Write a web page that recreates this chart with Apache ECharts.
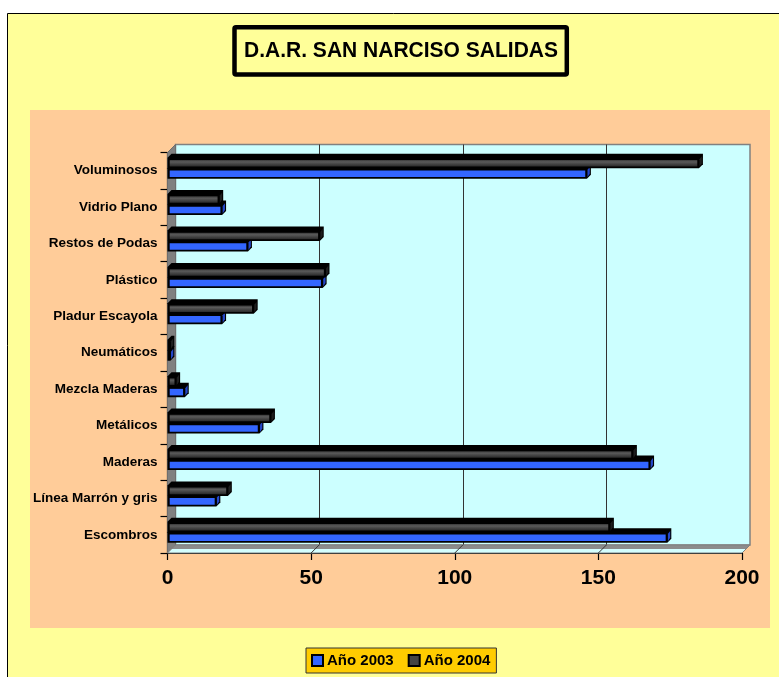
<!DOCTYPE html>
<html>
<head>
<meta charset="utf-8">
<title>D.A.R. SAN NARCISO SALIDAS</title>
<script src="https://cdn.jsdelivr.net/npm/echarts@6/dist/echarts.min.js"></script>
<style>
  html, body { margin: 0; padding: 0; background: #ffffff; }
  #chart { width: 779px; height: 677px; }
</style>
</head>
<body>
<div id="chart"></div>
<script>
// Categories, bottom to top as they appear on the vertical axis
const categories = [
  'Escombros', 'Línea Marrón y gris', 'Maderas', 'Metálicos', 'Mezcla Maderas',
  'Neumáticos', 'Pladur Escayola', 'Plástico', 'Restos de Podas', 'Vidrio Plano', 'Voluminosos'
];
const ano2003 = [174, 17, 168, 32, 6, 1, 19, 54, 28, 19, 146];
const ano2004 = [154, 21, 162, 36, 3, 1, 30, 55, 53, 18, 185];
const seriesNames = ['Año 2003', 'Año 2004'];
const xTicks = [0, 50, 100, 150, 200];

const FONT = "'Liberation Sans', Arial, Helvetica, sans-serif";

// Layout of the pseudo-3D box: front plane and back wall (offset by DEPTH)
const FRONT = { left: 167.5, top: 152.5, width: 574.5, height: 400.5 };
const DEPTH = 8;
const BACK = { left: FRONT.left + DEPTH, top: FRONT.top - DEPTH, width: FRONT.width, height: FRONT.height };
const BAR_D = 4;        // depth of each bar prism
const EDGE = 2.2;       // black outline thickness of the bars
const BLUE = '#3366FF', BLUE_SIDE = '#2447c8';
const DARK = '#444444', DARK_SIDE = '#1e1e1e';

function toData(values) {
  return values.map((v, i) => [v, i]);
}

// Draws one horizontal bar as a small prism: black silhouette, front face, right face
function makeBarRenderer(topOff, botOff, faceFill, sideFill) {
  return function (params, api) {
    const val = api.value(0);
    const cat = api.value(1);
    const p0 = api.coord([0, cat]);
    const p1 = api.coord([val, cat]);
    const c = p0[1];
    const x0 = p0[0], x1 = Math.max(p1[0], x0 + 2);
    const y0 = c + topOff, y1 = c + botOff;
    const D = BAR_D;
    const children = [];
    children.push({
      type: 'polygon',
      shape: { points: [[x0, y1], [x0, y0], [x0 + D, y0 - D], [x1 + D, y0 - D], [x1 + D, y1 - D], [x1, y1]] },
      style: { fill: '#000000' }
    });
    const fw = x1 - x0 - EDGE * 1.75;
    if (fw > 0) {
      children.push({
        type: 'rect',
        shape: { x: x0 + EDGE, y: y0 + EDGE, width: fw, height: y1 - y0 - EDGE * 1.8 },
        style: { fill: faceFill }
      });
    }
    children.push({
      type: 'polygon',
      shape: { points: [[x1 + 0.6, y0 + 1.5], [x1 + D - 1.1, y0 - D + 2.6], [x1 + D - 1.1, y1 - D - 1], [x1 + 0.6, y1 - 1.6]] },
      style: { fill: sideFill }
    });
    return { type: 'group', children: children };
  };
}

const darkFace = new echarts.graphic.LinearGradient(0, 0, 0, 1, [
  { offset: 0, color: '#383838' },
  { offset: 0.3, color: '#5a5a5a' },
  { offset: 1, color: '#2a2a2a' }
]);

// Slanted floor lines linking front ticks to the back wall grid lines
function renderFloorLine(params, api) {
  const v = api.value(0);
  const p = api.coord([v, 0]);
  const bottom = params.coordSys.y + params.coordSys.height;
  return {
    type: 'line',
    shape: { x1: p[0], y1: bottom, x2: p[0] + DEPTH, y2: bottom - DEPTH },
    style: { stroke: '#333333', lineWidth: 1 }
  };
}

const chart = echarts.init(document.getElementById('chart'), null, { renderer: 'canvas' });

chart.setOption({
  animation: false,
  backgroundColor: '#ffffff',
  graphic: [
    { type: 'rect', z: -20, shape: { x: 7.5, y: 13.5, width: 800, height: 700 },
      style: { fill: '#FFFF99', stroke: '#000000', lineWidth: 1 } },
    { type: 'rect', z: -19, shape: { x: 30, y: 110, width: 740, height: 518 },
      style: { fill: '#FFCC99' } },
    { type: 'rect', z: -18, shape: { x: 234.5, y: 27.3, width: 332.3, height: 47.2, r: 1.5 },
      style: { fill: '#FFFF99', stroke: '#000000', lineWidth: 4.5 } },
    { type: 'text', z: -17, x: 401, y: 51, scaleX: 0.955,
      style: { text: 'D.A.R. SAN NARCISO SALIDAS', fill: '#000000', font: 'bold 22px ' + FONT,
               textAlign: 'center', textVerticalAlign: 'middle' } },
    // left side wall
    { type: 'polygon', z: 1,
      shape: { points: [[FRONT.left, FRONT.top + FRONT.height], [FRONT.left, FRONT.top],
                        [BACK.left, BACK.top], [BACK.left, BACK.top + BACK.height]] },
      style: { fill: '#808080', stroke: '#6e6e6e', lineWidth: 1 } },
    // floor
    { type: 'polygon', z: 1,
      shape: { points: [[FRONT.left, FRONT.top + FRONT.height], [BACK.left, BACK.top + BACK.height],
                        [BACK.left + BACK.width, BACK.top + BACK.height],
                        [FRONT.left + FRONT.width, FRONT.top + FRONT.height]] },
      style: {
        fill: new echarts.graphic.LinearGradient(0, 0, 0, 1, [
          { offset: 0, color: '#8c8c8c' }, { offset: 0.45, color: '#8c8c8c' },
          { offset: 0.55, color: '#D4FFFF' }, { offset: 1, color: '#D4FFFF' }
        ]),
        stroke: '#808080', lineWidth: 1
      } }
  ],
  title: { show: false },
  legend: {
    left: 306, top: 648,
    data: [
      { name: seriesNames[0], itemStyle: { color: BLUE } },
      { name: seriesNames[1], itemStyle: { color: DARK } }
    ],
    icon: 'rect',
    itemWidth: 11, itemHeight: 11, itemGap: 14,
    itemStyle: { borderColor: '#000000', borderWidth: 2 },
    backgroundColor: '#FFCC00', borderColor: '#333333', borderWidth: 1,
    padding: [5, 6, 5, 5], borderRadius: 0,
    textStyle: { fontFamily: FONT, fontWeight: 'bold', fontSize: 15, color: '#000000', padding: [0, 0, 0, -1] }
  },
  grid: [
    { left: FRONT.left, top: FRONT.top, width: FRONT.width, height: FRONT.height, containLabel: false },
    { left: BACK.left, top: BACK.top, width: BACK.width, height: BACK.height, containLabel: false,
      show: true, backgroundColor: '#CCFFFF', borderColor: '#808080', borderWidth: 1.5 }
  ],
  xAxis: [
    { type: 'value', gridIndex: 0, min: xTicks[0], max: xTicks[xTicks.length - 1], interval: 50,
      axisLine: { show: true, lineStyle: { color: '#000000', width: 1.2 } },
      axisTick: { show: true, length: 7, lineStyle: { color: '#000000', width: 1.2 } },
      axisLabel: { margin: 15, fontFamily: FONT, fontWeight: 'bold', fontSize: 21, color: '#000000' },
      splitLine: { show: false } },
    { type: 'value', gridIndex: 1, min: xTicks[0], max: xTicks[xTicks.length - 1], interval: 50,
      axisLine: { show: false }, axisTick: { show: false }, axisLabel: { show: false },
      splitLine: { show: true, showMinLine: false, showMaxLine: false, lineStyle: { color: '#333333', width: 1 } } }
  ],
  yAxis: [
    { type: 'category', gridIndex: 0, data: categories,
      axisLine: { show: true, lineStyle: { color: '#000000', width: 1.2 } },
      axisTick: { show: true, length: 7, lineStyle: { color: '#000000', width: 1.2 } },
      axisLabel: { margin: 10, fontFamily: FONT, fontWeight: 'bold', fontSize: 13.5, color: '#000000' },
      splitLine: { show: false } },
    { type: 'category', gridIndex: 1, data: categories, show: false }
  ],
  series: [
    { type: 'custom', name: 'floor', xAxisIndex: 0, yAxisIndex: 0, z: 1, silent: true,
      data: xTicks.slice(1, -1).map(v => [v, 0]), encode: { x: 0, y: 1 },
      renderItem: renderFloorLine },
    { type: 'custom', name: seriesNames[0], xAxisIndex: 0, yAxisIndex: 0, z: 3,
      itemStyle: { color: BLUE, borderColor: '#000000', borderWidth: 2 },
      data: toData(ano2003), encode: { x: 0, y: 1 },
      renderItem: makeBarRenderer(-2.5, 8, BLUE, BLUE_SIDE) },
    { type: 'custom', name: seriesNames[1], xAxisIndex: 0, yAxisIndex: 0, z: 4,
      itemStyle: { color: DARK, borderColor: '#000000', borderWidth: 2 },
      data: toData(ano2004), encode: { x: 0, y: 1 },
      renderItem: makeBarRenderer(-13, -2.5, darkFace, DARK_SIDE) }
  ]
});
</script>
</body>
</html>
